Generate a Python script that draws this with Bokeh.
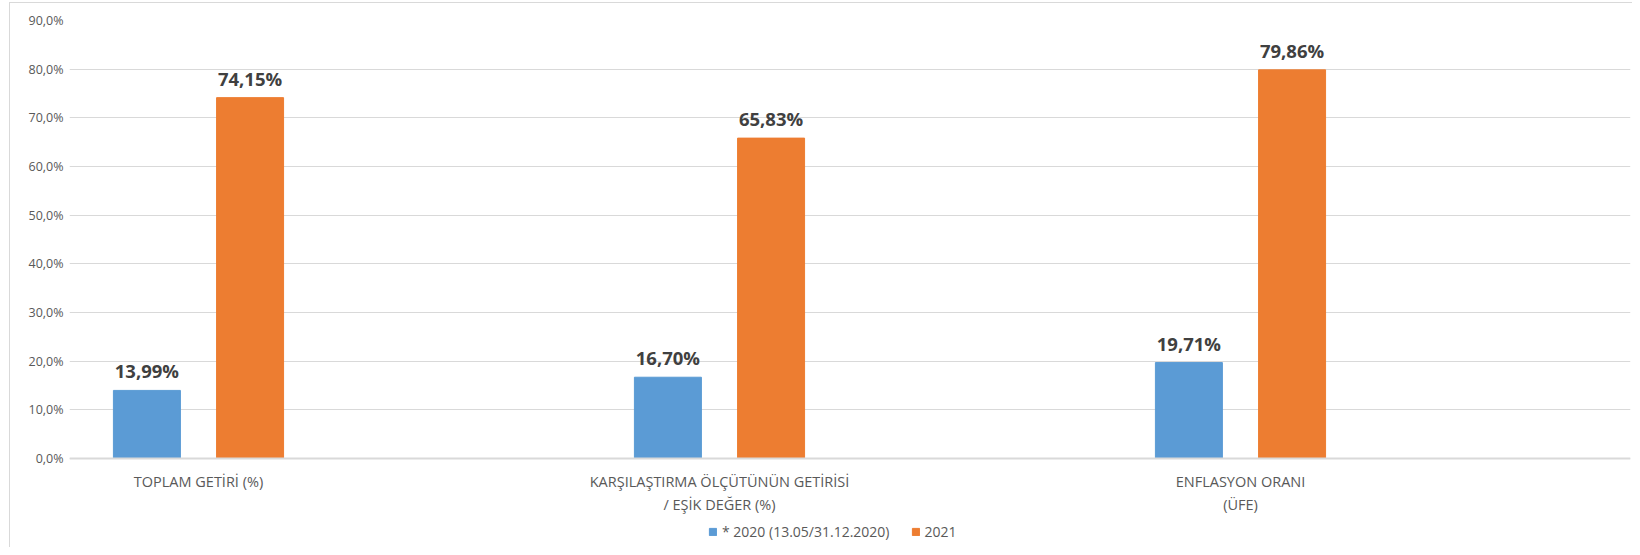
from bokeh.plotting import figure
from bokeh.models import ColumnDataSource, Legend, LegendItem, FixedTicker, Range1d, LabelSet
from bokeh.core.properties import value
from bokeh.transform import dodge
from bokeh.embed import file_html
from bokeh.resources import INLINE

categories = ["TOPLAM GETİRİ (%)",
              "KARŞILAŞTIRMA ÖLÇÜTÜNÜN GETİRİSİ\n/ EŞİK DEĞER (%)",
              "ENFLASYON ORANI\n(ÜFE)"]
series_2020 = [13.99, 16.70, 19.71]
series_2021 = [74.15, 65.83, 79.86]
series_names = ["* 2020 (13.05/31.12.2020)", "2021"]
y_ticks = [0, 10, 20, 30, 40, 50, 60, 70, 80, 90]

pos = list(range(len(categories)))
src = ColumnDataSource(dict(
    x=pos,
    a=series_2020,
    b=series_2021,
    la=[f"{v:.2f}%".replace(".", ",") for v in series_2020],
    lb=[f"{v:.2f}%".replace(".", ",") for v in series_2021],
))

FONT = "Open Sans"
BFONT = "Open Sans"
GREY = "#595959"

# frame: 90% at y=20, 0% at y=458, frame bottom at 547 (room for labels + legend)
p = figure(width=1632, height=547, output_backend="svg", toolbar_location=None,
           x_range=Range1d(-0.2476, 2.7486), y_range=Range1d(-18.29, 90),
           min_border_left=69, min_border_right=2, min_border_top=20, min_border_bottom=0)
p.outline_line_color = None
p.background_fill_color = "white"
p.border_fill_alpha = 0
# light chart-area border (left and top), drawn behind the transparent canvas border
p.styles = {
    "background-color": "white",
    "background-image": "linear-gradient(#d9d9d9, #d9d9d9), linear-gradient(#d9d9d9, #d9d9d9)",
    "background-size": "1px 100%, 100% 1px",
    "background-position": "9px 2px, 9px 2px",
    "background-repeat": "no-repeat",
}

r1 = p.vbar(x=dodge("x", -0.099, range=p.x_range), top="a", bottom=0, width=0.1286, source=src,
            fill_color="#5B9BD5", line_color="#5B9BD5")
r2 = p.vbar(x=dodge("x", 0.099, range=p.x_range), top="b", bottom=0, width=0.1286, source=src,
            fill_color="#ED7D31", line_color="#ED7D31")

for col, lab, off in (("a", "la", -0.099), ("b", "lb", 0.099)):
    ls = LabelSet(x=dodge("x", off, range=p.x_range), y=col, text=lab, source=src,
                  text_align="center", text_baseline="alphabetic", y_offset=12,
                  text_font=value(BFONT), text_font_style="bold", text_font_size="18.5px",
                  text_color="#404040")
    p.add_layout(ls)

# y axis
p.yaxis.ticker = FixedTicker(ticks=y_ticks)
p.yaxis.major_label_overrides = {t: f"{t},0%" for t in y_ticks}
p.yaxis.axis_line_color = None
p.yaxis.major_tick_line_color = None
p.yaxis.minor_tick_line_color = None
p.yaxis.major_tick_out = 0
p.yaxis.major_tick_in = 0
p.yaxis.major_label_text_font = FONT
p.yaxis.major_label_text_font_size = "12.5px"
p.yaxis.major_label_text_color = GREY
p.yaxis.major_label_standoff = 6

# x axis, pinned at 0
p.xaxis.fixed_location = 0
p.xaxis.ticker = FixedTicker(ticks=pos)
p.xaxis.major_label_overrides = {i: c for i, c in enumerate(categories)}
p.xaxis.axis_line_color = "#d9d9d9"
p.xaxis.axis_line_width = 2
p.xaxis.major_tick_line_color = None
p.xaxis.minor_tick_line_color = None
p.xaxis.major_label_text_font = FONT
p.xaxis.major_label_text_font_size = "14.5px"
p.xaxis.major_label_text_color = GREY
p.xaxis.major_label_standoff = 8

p.xgrid.grid_line_color = None
p.ygrid.grid_line_color = "#d9d9d9"
p.ygrid.grid_line_width = 1

legend = Legend(items=[LegendItem(label=series_names[0], renderers=[r1]),
                       LegendItem(label=series_names[1], renderers=[r2])],
                orientation="horizontal", location=(639, 6),
                glyph_width=9, glyph_height=9, label_standoff=5, spacing=21,
                padding=0, margin=0, border_line_color=None, background_fill_alpha=0,
                label_text_font=FONT, label_text_font_size="14px", label_text_color=GREY,
                label_height=16)
p.add_layout(legend, "center")

open("out.html", "w").write(file_html(p, INLINE))
